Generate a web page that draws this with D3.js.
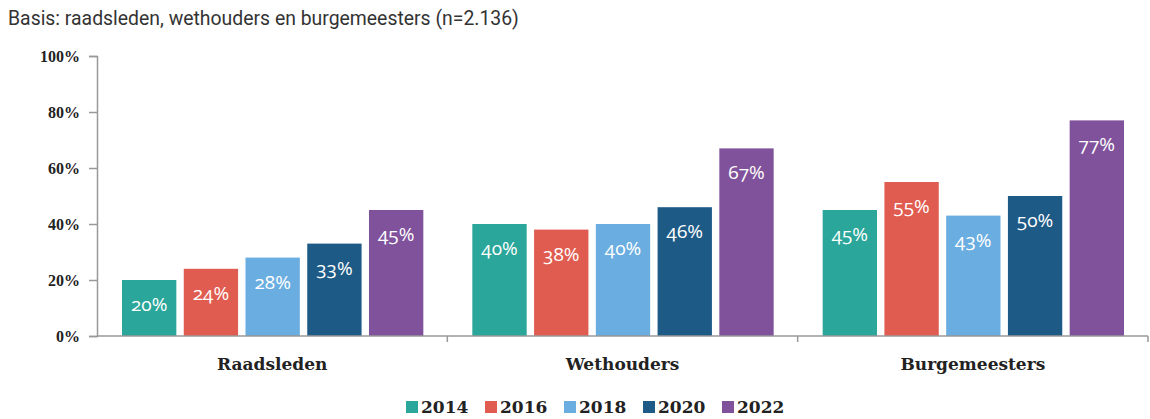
<!DOCTYPE html>
<html lang="nl">
<head>
    <meta charset="UTF-8">
    <title>Basis: raadsleden, wethouders en burgemeesters</title>
    <script src="https://d3js.org/d3.v7.min.js"></script>
    <style>
        body {
            margin: 0;
            background: #fff;
        }

        .title {
            font-family: Roboto, "Noto Sans", sans-serif;
            font-size: 19.4px;
            fill: #333;
        }

        .axis text {
            font-family: "Liberation Serif", serif;
            font-weight: bold;
            font-size: 16px;
            fill: #222;
        }

        .axis path, .axis line {
            stroke: #999;
            stroke-width: 1.5px;
        }

        .cat-label, .legend-label {
            font-family: "DejaVu Serif", serif;
            font-weight: bold;
            font-size: 17px;
            fill: #222;
        }

        .bar-label {
            font-family: "Open Sans", sans-serif;
            font-size: 19px;
            fill: #fff;
            text-anchor: middle;
            font-variant-numeric: oldstyle-nums;
        }
    </style>
</head>
<body>
    <svg width="1150" height="419"></svg>

    <script>
        var groups = ["Raadsleden", "Wethouders", "Burgemeesters"];
        var years = ["2014", "2016", "2018", "2020", "2022"];
        var colors = ["#2aa69a", "#e05c50", "#6aade0", "#1e5a86", "#7f529b"];

        // one array per year, in the order of the groups
        var v2014 = [20, 40, 45];
        var v2016 = [24, 38, 55];
        var v2018 = [28, 40, 43];
        var v2020 = [33, 46, 50];
        var v2022 = [45, 67, 77];
        var series = [v2014, v2016, v2018, v2020, v2022];

        var yTicks = [0, 20, 40, 60, 80, 100];

        var svg = d3.select("svg");

        var plotLeft = 97, plotRight = 1148, plotTop = 56, plotBottom = 336;

        var x0 = d3.scaleBand()
            .domain(groups)
            .range([plotLeft, plotRight])
            .padding(0);

        var x1 = d3.scaleBand()
            .domain(years)
            .range([25, x0.bandwidth() - 24])
            .paddingInner(0.12)
            .paddingOuter(0);

        var y = d3.scaleLinear()
            .domain([0, 100])
            .range([plotBottom, plotTop]);

        svg.append("text")
            .attr("class", "title")
            .attr("x", 8)
            .attr("y", 25)
            .text("Basis: raadsleden, wethouders en burgemeesters (n=2.136)");

        // bars
        var data = [];
        groups.forEach(function(g, gi) {
            years.forEach(function(yr, yi) {
                data.push({ group: g, year: yr, value: series[yi][gi], color: colors[yi] });
            });
        });

        var bars = svg.append("g");

        bars.selectAll("rect")
            .data(data)
            .enter().append("rect")
            .attr("x", function(d) { return x0(d.group) + x1(d.year); })
            .attr("y", function(d) { return y(d.value); })
            .attr("width", x1.bandwidth())
            .attr("height", function(d) { return y(0) - y(d.value); })
            .attr("fill", function(d) { return d.color; });

        bars.selectAll(".bar-label")
            .data(data)
            .enter().append("text")
            .attr("class", "bar-label")
            .attr("x", function(d) { return x0(d.group) + x1(d.year) + x1.bandwidth() / 2; })
            .attr("y", function(d) { return y(d.value) + 31; })
            .text(function(d) { return d.value + "%"; });

        // y axis
        svg.append("g")
            .attr("class", "axis")
            .attr("transform", "translate(" + plotLeft + ",0)")
            .call(d3.axisLeft(y)
                .tickValues(yTicks)
                .tickSize(8)
                .tickSizeOuter(8)
                .tickPadding(9)
                .tickFormat(function(d) { return d + "%"; }));

        // x axis with group separators
        var xAxis = svg.append("g")
            .attr("class", "axis")
            .attr("transform", "translate(0," + plotBottom + ")");

        xAxis.append("line")
            .attr("x1", plotLeft)
            .attr("x2", plotRight)
            .attr("y1", 0)
            .attr("y2", 0);

        xAxis.selectAll(".sep")
            .data(groups.slice(1).concat(["end"]))
            .enter().append("line")
            .attr("class", "sep")
            .attr("x1", function(d) { return d === "end" ? plotRight : x0(d); })
            .attr("x2", function(d) { return d === "end" ? plotRight : x0(d); })
            .attr("y1", 0)
            .attr("y2", 6);

        svg.selectAll(".cat-label")
            .data(groups)
            .enter().append("text")
            .attr("class", "cat-label")
            .attr("text-anchor", "middle")
            .attr("x", function(d) { return x0(d) + x0.bandwidth() / 2; })
            .attr("y", 370)
            .text(function(d) { return d; });

        // legend
        var legend = svg.append("g")
            .attr("transform", "translate(406,0)");

        var item = legend.selectAll("g")
            .data(years)
            .enter().append("g")
            .attr("transform", function(d, i) { return "translate(" + (i * 79) + ",401)"; });

        item.append("rect")
            .attr("width", 12)
            .attr("height", 12)
            .attr("fill", function(d, i) { return colors[i]; });

        item.append("text")
            .attr("class", "legend-label")
            .attr("x", 15)
            .attr("y", 12)
            .text(function(d) { return d; });
    </script>
</body>
</html>
